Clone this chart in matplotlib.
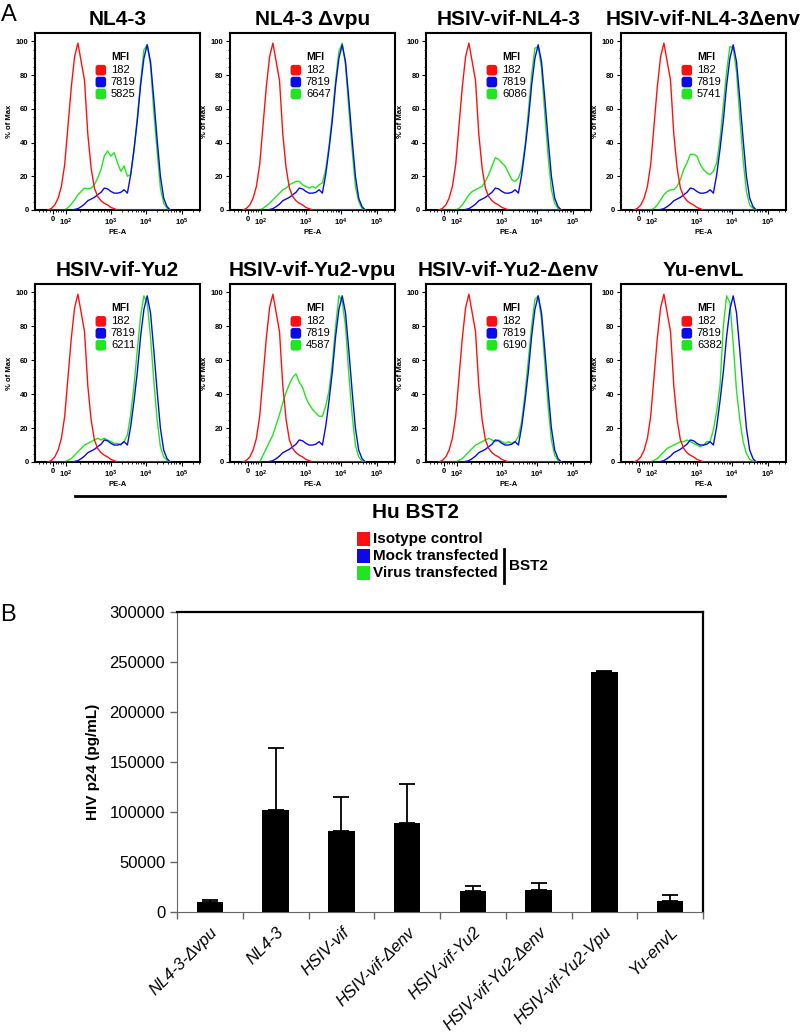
import numpy as np
import matplotlib
matplotlib.use("Agg")
import matplotlib.pyplot as plt
from matplotlib.patches import FancyBboxPatch, Rectangle
from matplotlib.lines import Line2D

plt.rcParams['font.family'] = ['Liberation Sans', 'DejaVu Sans']
plt.rcParams['mathtext.fontset'] = 'custom'
plt.rcParams['mathtext.rm'] = 'Liberation Sans'
plt.rcParams['mathtext.bf'] = 'Liberation Sans:bold'

# ---------------- data: panel A (flow histograms) ----------------
panel_titles = ["NL4-3", "NL4-3 Δvpu", "HSIV-vif-NL4-3", "HSIV-vif-NL4-3Δenv",
                "HSIV-vif-Yu2", "HSIV-vif-Yu2-vpu", "HSIV-vif-Yu2-Δenv", "Yu-envL"]
mfi_isotype = 182
mfi_mock = 7819
mfi_virus = [5825, 6647, 6086, 5741, 6211, 4587, 6190, 6382]

# display channel (0-1000 across the PE-A axis)
channel = [80, 100, 120, 140, 160, 180, 200, 220, 240, 260, 280, 300, 320, 340, 360,
           380, 400, 420, 440, 460, 480, 500, 520, 540, 560, 580, 600, 620, 640, 660,
           680, 700, 720, 740, 760, 780, 800, 820]

isotype_pct = [0, 1, 3, 7, 14, 27, 50, 73, 91, 99, 88, 77, 45, 25, 13, 8, 5.5, 4, 3, 1.5,
               0.8, 0, 0, 0, 0, 0, 0, 0, 0, 0, 0, 0, 0, 0, 0, 0, 0, 0]
mock_pct = [0, 0, 0, 0, 0, 0, 0, 0, 0.3, 0.8, 2, 3.5, 5.5, 6.5, 7.5, 9, 10.5, 13, 12.5, 11,
            10, 10, 10.5, 12, 10, 21, 36, 53, 74, 90, 98, 88, 66, 42, 20, 7, 2, 0]

virus_nl43 = [0, 0, 0, 0, 0, 0, 1.5, 3.5, 6, 9, 11, 13, 12.5, 13, 15, 19, 24, 32, 35, 32,
              34, 28, 23, 26, 20, 21, 35, 55, 76, 95, 98, 86, 58, 35, 13, 4, 1, 0]
virus_nl43_dvpu = [0, 0, 0, 0, 0, 0, 1, 2.5, 4, 6, 8, 10, 12, 13, 15, 16, 17, 17, 15, 14,
                   13, 14, 13, 15, 16, 24, 38, 56, 77, 94, 99, 86, 60, 36, 14, 5, 1, 0]
virus_hsiv_nl43 = [0, 0, 0, 0, 0, 0, 1, 3, 6, 9, 11, 12, 13, 14, 17, 21, 26, 31, 30, 28,
                   26, 22, 18, 17, 19, 24, 38, 58, 80, 96, 97, 84, 57, 32, 12, 4, 1, 0]
virus_hsiv_nl43_denv = [0, 0, 0, 0, 0, 0, 1, 3, 6, 9, 11, 12, 12, 14, 18, 24, 28, 33, 33, 32,
                        27, 24, 22, 21, 23, 28, 42, 62, 82, 97, 96, 82, 55, 30, 11, 3, 1, 0]
virus_hsiv_yu2 = [0, 0, 0, 0, 0, 0, 1, 2, 4, 6, 8, 10, 11, 12, 13, 14, 13, 14, 13, 12,
                  11, 11, 10, 12, 16, 28, 45, 66, 86, 98, 94, 74, 48, 25, 9, 3, 1, 0]
virus_hsiv_yu2_vpu = [0, 0, 0, 0, 0, 0, 4, 8, 12, 16, 22, 28, 35, 41, 46, 50, 52, 47, 44, 38,
                      34, 31, 29, 27, 27, 33, 42, 58, 80, 98, 95, 80, 52, 28, 10, 3, 0.5, 0]
virus_hsiv_yu2_denv = [0, 0, 0, 0, 0, 0, 1, 2, 4, 6, 8, 10, 11, 12, 13, 14, 13, 12, 13, 12,
                       11, 12, 11, 12, 15, 24, 40, 60, 80, 96, 98, 84, 58, 33, 13, 4, 1, 0]
virus_yu_envl = [0, 0, 0, 0, 0, 0, 1, 2, 4, 6, 8, 9, 10, 11, 12, 12, 13, 12, 11, 10,
                 9, 10, 12, 12, 19, 30, 45, 80, 98, 94, 70, 42, 25, 12, 5, 1.5, 0.5, 0]
virus_curves = [virus_nl43, virus_nl43_dvpu, virus_hsiv_nl43, virus_hsiv_nl43_denv,
                virus_hsiv_yu2, virus_hsiv_yu2_vpu, virus_hsiv_yu2_denv, virus_yu_envl]

xtick_labels = ['0', r'$\mathbf{10^2}$', r'$\mathbf{10^3}$', r'$\mathbf{10^4}$', r'$\mathbf{10^5}$']
xtick_channel = [109, 188, 461, 673, 891]

legend_labels = ["Isotype control", "Mock transfected", "Virus transfected"]

# ---------------- data: panel B (p24) ----------------
bar_labels = ["NL4-3-Δvpu", "NL4-3", "HSIV-vif", "HSIV-vif-Δenv", "HSIV-vif-Yu2",
              "HSIV-vif-Yu2-Δenv", "HSIV-vif-Yu2-Vpu", "Yu-envL"]
p24_mean = [9800, 102000, 81000, 89000, 20600, 22200, 240000, 10800]
p24_err = [2600, 62000, 34000, 39000, 5900, 6900, 1500, 5900]
p24_ticks = [0, 50000, 100000, 150000, 200000, 250000, 300000]

# ---------------- figure ----------------
W, H = 800, 1034
fig = plt.figure(figsize=(W / 100, H / 100), dpi=100)


def fx(px):
    return px / W


def fy(py):
    return 1 - py / H


RED, BLUE, GREEN = '#ff1010', '#0a0ae6', '#1fe61f'
col_left = [35, 230, 426, 621]
row_top = [33, 284]
row_bot = [210, 462]
pw = 165

# minor tick positions on the biexponential-like axis
minor = []
for a, b in zip(xtick_channel[1:-1], xtick_channel[2:]):
    for k in range(2, 10):
        minor.append(a + np.log10(k) * (b - a))
z, d2 = xtick_channel[0], xtick_channel[1]
for k in range(1, 5):
    minor.append(z + (d2 - z) * k / 5)
    minor.append(z - (d2 - z) * k / 5 * 1.3)
for k in range(2, 6):
    minor.append(xtick_channel[-1] + np.log10(k) * (xtick_channel[-1] - xtick_channel[-2]))

for i, title in enumerate(panel_titles):
    r, c = divmod(i, 4)
    ax = fig.add_axes([fx(col_left[c]), fy(row_bot[r]), pw / W,
                       (row_bot[r] - row_top[r]) / H])
    ax.plot(channel, virus_curves[i], color=GREEN, lw=1.0, zorder=3)
    ax.plot(channel, mock_pct, color=BLUE, lw=1.0, zorder=4)
    ax.plot(channel, isotype_pct, color=RED, lw=1.0, zorder=5)
    ax.set_xlim(0, 1000)
    ax.set_ylim(0, 105)
    ax.set_yticks([0, 20, 40, 60, 80, 100])
    ax.set_yticks(np.arange(0, 101, 5), minor=True)
    ax.set_xticks(xtick_channel)
    ax.set_xticklabels(xtick_labels)
    ax.set_xticks([m for m in minor if 0 < m < 1000], minor=True)
    ax.tick_params(axis='both', which='major', length=3, width=0.8, labelsize=5.5, pad=1.5)
    ax.tick_params(axis='both', which='minor', length=1.5, width=0.6)
    for lab in ax.get_xticklabels() + ax.get_yticklabels():
        lab.set_fontweight('bold')
    ax.set_xlabel('PE-A', fontsize=5.5, fontweight='bold', labelpad=1)
    ax.set_ylabel('% of Max', fontsize=5.5, fontweight='bold', labelpad=2)
    for s in ax.spines.values():
        s.set_linewidth(1.5)
    ax.set_title(title, fontsize=15, fontweight='bold', pad=5.5)

    # MFI key
    ax.text(0.465, 0.865, 'MFI', transform=ax.transAxes, fontsize=7.5, fontweight='bold',
            ha='left', va='center')
    for j, (col, val) in enumerate(zip([RED, BLUE, GREEN],
                                       [mfi_isotype, mfi_mock, mfi_virus[i]])):
        yc = 0.79 - j * 0.067
        ax.add_patch(FancyBboxPatch((0.367, yc - 0.03), 0.064, 0.06,
                                    boxstyle='round,pad=0,rounding_size=0.015',
                                    transform=ax.transAxes, color=col, lw=0, zorder=6))
        ax.text(0.46, yc, str(val), transform=ax.transAxes, fontsize=8,
                ha='left', va='center', zorder=6)

# panel letters
fig.text(fx(1), fy(15), 'A', fontsize=17, ha='left', va='center')
fig.text(fx(0), fy(615), 'B', fontsize=17, ha='left', va='center')

# Hu BST2 bar and key
fig.add_artist(Line2D([fx(75), fx(725)], [fy(496), fy(496)], color='black', lw=2))
fig.text(fx(416), fy(513), 'Hu BST2', fontsize=15, fontweight='bold', ha='center', va='center')
key_y = [539, 556, 573]
for col, lab, yy in zip([RED, BLUE, GREEN], legend_labels, key_y):
    fig.add_artist(Rectangle((fx(357), fy(yy + 7)), 13 / W, 14 / H, color=col, lw=0))
    fig.text(fx(373), fy(yy), lab, fontsize=11, fontweight='bold', ha='left', va='center')
fig.add_artist(Line2D([fx(504), fx(504)], [fy(549), fy(583)], color='black', lw=2))
fig.text(fx(509), fy(566), 'BST2', fontsize=11, fontweight='bold', ha='left', va='center')

# ---------------- panel B ----------------
axb = fig.add_axes([fx(177), fy(912), 526 / W, 300 / H])
xb = np.arange(len(bar_labels))
axb.bar(xb, p24_mean, width=0.4, color='black', zorder=3)
axb.errorbar(xb, p24_mean, yerr=[np.zeros(len(p24_err)), p24_err], fmt='none',
             ecolor='black', capsize=6, elinewidth=1.3, capthick=1.3, zorder=2)
axb.set_xlim(-0.5, len(bar_labels) - 0.5)
axb.set_ylim(0, 300000)
axb.set_yticks(p24_ticks)
axb.set_yticklabels([str(v) for v in p24_ticks])
axb.set_xticks(xb)
axb.set_xticklabels(bar_labels, rotation=45, ha='right', va='top', rotation_mode='anchor',
                    fontsize=12, style='italic')
axb.set_xticks(np.arange(-0.5, len(bar_labels)), minor=True)
axb.tick_params(axis='x', which='major', length=0, pad=9)
axb.tick_params(axis='x', which='minor', length=5, width=1, color='#666666')
axb.tick_params(axis='y', which='major', length=5, width=1, color='#666666', labelsize=12)
axb.spines['left'].set_color('#666666')
axb.spines['bottom'].set_color('#666666')
axb.spines['top'].set_linewidth(1.6)
axb.spines['right'].set_linewidth(1.6)
axb.set_ylabel('HIV p24 (pg/mL)', fontsize=11, fontweight='bold', labelpad=7)

fig.savefig('out.png', dpi=100)
